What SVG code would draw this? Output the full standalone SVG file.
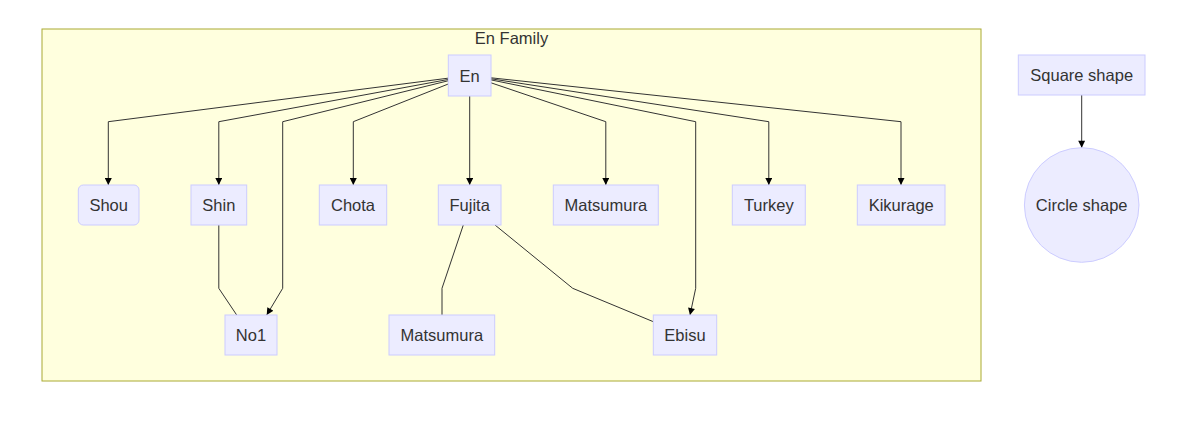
<svg xmlns="http://www.w3.org/2000/svg" width="1200" height="432" viewBox="0 0 1200 432">
<style>
.node rect, .node circle { fill: #ECECFF; stroke: #CCCCFF; stroke-width: 1; }
.label { font-family: "Liberation Sans", Arial, sans-serif; font-size: 16.5px; fill: #333; text-anchor: middle; }
.edge { fill: none; stroke: #333; stroke-width: 1; }
.arrow { marker-end: url(#arrowhead); }
.cluster rect { fill: #FFFFDE; stroke: #AAAA33; stroke-width: 1; }
</style>
<defs>
<marker id="arrowhead" viewBox="0 0 10 10" refX="10" refY="5" markerWidth="8" markerHeight="7" markerUnits="userSpaceOnUse" orient="auto">
<path d="M0,0 L10,5 L0,10 z" fill="#000"/>
</marker>
</defs>
<rect width="1200" height="432" fill="#ffffff"/>
<g id="cluster-en-family" class="cluster">
<rect x="42" y="29" width="939" height="352"/>
<text class="label" x="511.5" y="44">En Family</text>
</g>
<g id="connectors">
<polyline class="edge arrow" points="448,78.2 108.3,121.7 108.3,185"/>
<polyline class="edge arrow" points="448,79.5 218.8,121.7 218.8,185"/>
<polyline class="edge arrow" points="448,80.8 282.7,121.7 282.7,288.3 266.7,315"/>
<polyline class="edge arrow" points="448,84.1 353.3,121.7 353.3,185"/>
<polyline class="edge arrow" points="469.7,96 469.7,185"/>
<polyline class="edge arrow" points="491,82.8 605.8,121.7 605.8,185"/>
<polyline class="edge arrow" points="491,79.9 695.7,121.7 695.7,288.3 690,315"/>
<polyline class="edge arrow" points="491,78.8 768.8,121.7 768.8,185"/>
<polyline class="edge arrow" points="491,77.8 901,121.7 901,185"/>
<polyline class="edge" points="218.8,225 218.8,288.3 236.7,315"/>
<polyline class="edge" points="463.3,225 442,288.3 442,315"/>
<polyline class="edge" points="495,225 572.7,288.3 653.3,321.7"/>
<polyline class="edge arrow" points="1081.7,95 1081.7,147.7"/>
</g>
<g id="node-en" class="node"><rect x="448.3" y="55" width="42.7" height="41"/><text class="label" x="469.7" y="81.5">En</text></g>
<g id="node-shou" class="node"><rect x="78.3" y="185" width="60.7" height="40" rx="5" ry="5"/><text class="label" x="108.7" y="211">Shou</text></g>
<g id="node-shin" class="node"><rect x="191" y="185" width="55.7" height="40"/><text class="label" x="218.8" y="211">Shin</text></g>
<g id="node-chota" class="node"><rect x="319.3" y="185" width="67.4" height="40"/><text class="label" x="353" y="211">Chota</text></g>
<g id="node-fujita" class="node"><rect x="438.3" y="185" width="62.7" height="40"/><text class="label" x="469.7" y="211">Fujita</text></g>
<g id="node-matsumura-1" class="node"><rect x="553.3" y="185" width="105" height="40"/><text class="label" x="605.8" y="211">Matsumura</text></g>
<g id="node-turkey" class="node"><rect x="732.3" y="185" width="73" height="40"/><text class="label" x="768.8" y="211">Turkey</text></g>
<g id="node-kikurage" class="node"><rect x="857.3" y="185" width="87.7" height="40"/><text class="label" x="901.2" y="211">Kikurage</text></g>
<g id="node-no1" class="node"><rect x="225" y="315" width="52" height="40"/><text class="label" x="251" y="341">No1</text></g>
<g id="node-matsumura-2" class="node"><rect x="389" y="315" width="105.7" height="40"/><text class="label" x="441.8" y="341">Matsumura</text></g>
<g id="node-ebisu" class="node"><rect x="653.3" y="315" width="63.4" height="40"/><text class="label" x="685" y="341">Ebisu</text></g>
<g id="node-square" class="node"><rect x="1018.3" y="55" width="126.7" height="40"/><text class="label" x="1081.7" y="81">Square shape</text></g>
<g id="node-circle" class="node"><circle cx="1081.7" cy="205" r="57.3"/><text class="label" x="1081.7" y="211">Circle shape</text></g>
</svg>
